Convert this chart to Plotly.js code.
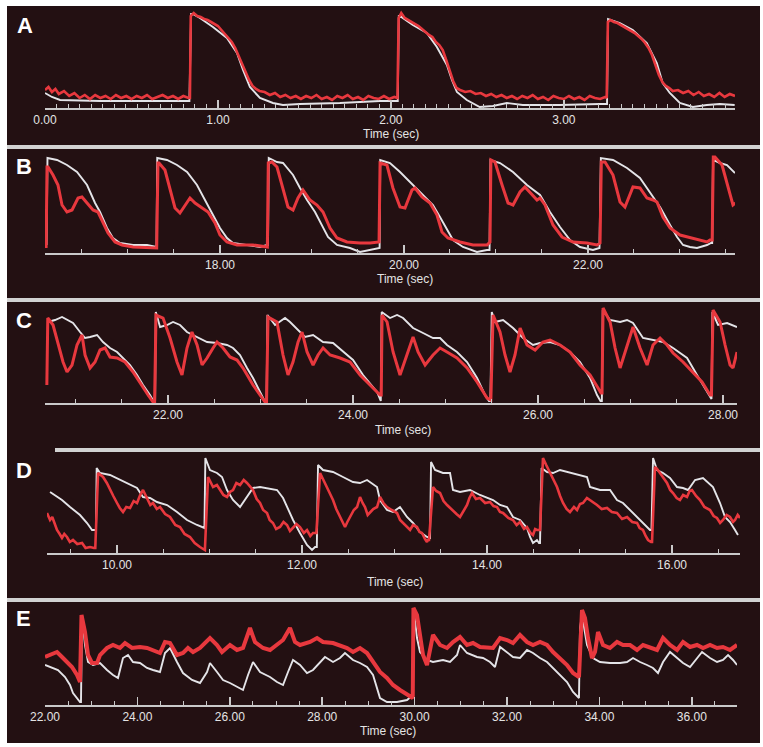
<!DOCTYPE html>
<html>
<head>
<meta charset="utf-8">
<script src="https://cdn.plot.ly/plotly-3.0.1.min.js"></script>
<style>html,body{margin:0;padding:0;background:#fff;}#chart{width:763px;height:747px;}</style>
</head>
<body>
<div id="chart"></div>
<script>
// ---------------- DATA (time in sec, signal in arbitrary units) ----------------
const panelLetters = ['A','B','C','D','E'];
const axisTitle = 'Time (sec)';

const aWhite = [[0,15],[0.04,11],[0.087,8],[0.32,7],[0.61,7],[0.827,7],[0.835,7],[0.845,94],[0.855,94],[0.896,90],[0.971,81],[1.052,70],[1.110,55],[1.145,38],[1.185,21],[1.243,10],[1.318,5],[1.376,3],[1.474,4],[1.705,5],[1.936,7],[2.029,7],[2.040,7],[2.046,92],[2.052,92],[2.127,83],[2.208,75],[2.266,61],[2.324,43],[2.353,28],[2.382,16],[2.439,8],[2.514,1],[2.590,2],[2.671,5],[2.763,3],[2.977,3],[3.208,4],[3.243,4],[3.250,4],[3.256,89],[3.324,85],[3.399,78],[3.480,65],[3.538,45],[3.572,25],[3.613,15],[3.671,5],[3.746,1],[3.827,3],[3.902,4],[3.988,3]];
const aRed = [[0,18],[0.02,21],[0.04,16],[0.06,19],[0.08,14],[0.11,17],[0.14,12],[0.17,15],[0.20,10],[0.23,13],[0.26,9],[0.29,13],[0.32,10],[0.35,12],[0.38,9],[0.41,13],[0.44,10],[0.47,12],[0.50,9],[0.53,12],[0.56,10],[0.59,13],[0.62,9],[0.65,11],[0.68,13],[0.71,10],[0.74,12],[0.77,9],[0.80,12],[0.83,10],[0.838,10],[0.843,92],[0.86,95],[0.88,92],[0.90,91],[0.92,89],[0.94,88],[0.96,86],[0.98,84],[1.00,82],[1.02,78],[1.04,74],[1.06,70],[1.08,66],[1.10,60],[1.12,52],[1.14,44],[1.16,36],[1.18,28],[1.20,22],[1.22,19],[1.24,17],[1.27,16],[1.30,13],[1.33,15],[1.36,11],[1.39,13],[1.42,10],[1.45,12],[1.48,9],[1.51,12],[1.54,10],[1.57,13],[1.60,9],[1.63,11],[1.66,8],[1.69,12],[1.72,10],[1.75,13],[1.78,9],[1.81,11],[1.84,8],[1.87,12],[1.90,10],[1.93,9],[1.96,12],[1.99,9],[2.02,11],[2.038,10],[2.045,90],[2.06,95],[2.08,90],[2.10,88],[2.12,86],[2.14,84],[2.16,82],[2.18,79],[2.20,76],[2.22,73],[2.24,71],[2.26,66],[2.28,63],[2.30,58],[2.32,48],[2.34,38],[2.36,27],[2.38,20],[2.40,18],[2.43,16],[2.46,17],[2.49,14],[2.52,15],[2.55,12],[2.58,14],[2.61,11],[2.64,13],[2.67,10],[2.70,12],[2.73,9],[2.76,12],[2.79,10],[2.82,13],[2.85,9],[2.88,11],[2.91,8],[2.94,12],[2.97,10],[3.00,9],[3.03,12],[3.06,9],[3.09,11],[3.12,8],[3.15,12],[3.18,10],[3.21,9],[3.24,11],[3.248,10],[3.255,86],[3.27,88],[3.29,86],[3.31,85],[3.33,83],[3.35,81],[3.37,79],[3.39,77],[3.41,75],[3.43,72],[3.45,69],[3.47,65],[3.49,60],[3.51,53],[3.53,43],[3.55,33],[3.57,26],[3.59,22],[3.61,20],[3.63,17],[3.66,18],[3.69,15],[3.72,17],[3.75,13],[3.78,16],[3.81,12],[3.84,14],[3.87,11],[3.90,15],[3.93,11],[3.96,14],[3.99,12]];

const bWhite = [[16.115,8],[16.125,95],[16.229,93],[16.337,88],[16.446,81],[16.555,68],[16.642,50],[16.696,41],[16.772,25],[16.837,15],[16.913,10],[17.055,8],[17.207,8],[17.294,6],[17.310,6],[17.318,95],[17.424,93],[17.533,88],[17.642,81],[17.750,68],[17.859,50],[17.924,38],[18.000,25],[18.076,15],[18.141,10],[18.293,8],[18.435,6],[18.511,8],[18.522,8],[18.530,95],[18.620,91],[18.685,90],[18.794,78],[18.870,65],[18.946,53],[19.033,41],[19.109,28],[19.174,16],[19.272,8],[19.413,5],[19.522,1],[19.631,3],[19.735,5],[19.742,93],[19.848,90],[19.957,81],[20.098,68],[20.207,58],[20.315,48],[20.391,36],[20.467,23],[20.533,13],[20.641,6],[20.793,1],[20.902,3],[20.930,3],[20.940,93],[21.044,90],[21.185,81],[21.337,68],[21.479,58],[21.587,41],[21.696,26],[21.805,13],[21.913,6],[22.054,3],[22.125,5],[22.140,95],[22.272,93],[22.424,85],[22.565,75],[22.674,61],[22.783,46],[22.892,28],[22.968,16],[23.033,8],[23.109,6],[23.185,5],[23.294,8],[23.337,10],[23.350,10],[23.359,93],[23.435,90],[23.511,88],[23.598,80]];
const bRed = [[16.110,5],[16.120,86],[16.131,86],[16.185,78],[16.239,68],[16.283,48],[16.337,41],[16.392,43],[16.457,55],[16.500,56],[16.555,50],[16.620,43],[16.674,41],[16.729,31],[16.783,20],[16.859,11],[16.935,8],[17.055,6],[17.207,5],[17.294,5],[17.312,5],[17.326,90],[17.337,90],[17.402,83],[17.457,65],[17.511,45],[17.565,40],[17.620,48],[17.674,55],[17.729,50],[17.805,45],[17.870,41],[17.946,30],[18.000,18],[18.076,11],[18.185,8],[18.359,8],[18.489,6],[18.515,6],[18.525,90],[18.565,91],[18.620,86],[18.674,68],[18.739,46],[18.794,43],[18.848,55],[18.902,63],[18.978,53],[19.054,48],[19.120,41],[19.196,25],[19.272,15],[19.380,11],[19.522,10],[19.631,10],[19.729,11],[19.740,90],[19.815,88],[19.880,65],[19.957,46],[20.011,45],[20.087,63],[20.120,65],[20.196,56],[20.283,50],[20.359,38],[20.413,21],[20.478,15],[20.609,11],[20.750,8],[20.902,8],[20.935,11],[20.945,93],[20.989,91],[21.066,68],[21.131,50],[21.185,48],[21.261,61],[21.315,66],[21.392,58],[21.446,53],[21.479,55],[21.533,48],[21.620,28],[21.718,16],[21.837,11],[21.989,10],[22.098,8],[22.131,10],[22.145,91],[22.185,91],[22.272,78],[22.348,51],[22.402,46],[22.489,66],[22.565,65],[22.641,55],[22.707,53],[22.750,51],[22.815,36],[22.892,25],[23.000,18],[23.141,15],[23.294,11],[23.326,13],[23.350,13],[23.362,96],[23.380,96],[23.457,88],[23.522,65],[23.576,48],[23.620,51]];

const cWhite = [[20.700,81],[20.778,83],[20.854,86],[20.908,83],[20.973,80],[21.049,71],[21.103,65],[21.157,66],[21.233,68],[21.297,61],[21.373,55],[21.449,51],[21.514,45],[21.589,38],[21.665,28],[21.730,18],[21.805,8],[21.849,1],[21.860,1],[21.868,91],[21.914,76],[21.989,78],[22.054,81],[22.130,78],[22.205,71],[22.314,66],[22.422,61],[22.530,60],[22.638,58],[22.703,55],[22.778,48],[22.854,35],[22.919,25],[22.995,11],[23.049,1],[23.065,1],[23.075,88],[23.157,78],[23.265,85],[23.319,81],[23.427,71],[23.481,66],[23.568,68],[23.676,61],[23.784,60],[23.892,51],[24.000,43],[24.108,28],[24.260,11],[24.300,2],[24.310,91],[24.400,85],[24.476,88],[24.541,85],[24.649,75],[24.757,70],[24.865,65],[24.941,65],[25.016,58],[25.124,51],[25.233,41],[25.341,25],[25.427,8],[25.470,2],[25.485,2],[25.500,91],[25.535,81],[25.622,83],[25.730,75],[25.838,65],[25.946,58],[26.022,60],[26.130,61],[26.238,58],[26.346,51],[26.454,41],[26.562,25],[26.638,8],[26.675,2],[26.690,2],[26.700,93],[26.779,83],[26.887,81],[26.962,83],[27.027,80],[27.135,65],[27.243,63],[27.351,61],[27.460,55],[27.611,45],[27.719,28],[27.806,15],[27.860,6],[27.875,4],[27.885,91],[27.946,78],[28.044,80],[28.151,76]];
const cRed = [[20.690,18],[20.700,85],[20.757,78],[20.811,58],[20.865,41],[20.908,31],[20.962,38],[21.016,58],[21.070,68],[21.103,48],[21.157,35],[21.211,41],[21.265,53],[21.319,55],[21.373,46],[21.449,45],[21.535,41],[21.622,31],[21.697,20],[21.784,8],[21.838,1],[21.855,1],[21.870,88],[21.946,85],[22.022,65],[22.097,41],[22.151,28],[22.205,55],[22.259,71],[22.314,58],[22.368,38],[22.422,45],[22.487,55],[22.530,61],[22.595,55],[22.670,46],[22.746,43],[22.811,35],[22.919,18],[23.016,6],[23.049,1],[23.065,1],[23.081,86],[23.178,81],[23.243,48],[23.297,28],[23.351,41],[23.406,61],[23.449,71],[23.503,51],[23.568,38],[23.622,48],[23.676,55],[23.752,48],[23.860,45],[23.968,41],[24.076,28],[24.184,18],[24.292,8],[24.305,8],[24.314,88],[24.368,81],[24.433,51],[24.508,28],[24.584,48],[24.649,66],[24.703,51],[24.779,38],[24.865,48],[24.941,55],[25.016,51],[25.124,45],[25.233,35],[25.341,21],[25.449,5],[25.478,3],[25.490,3],[25.514,88],[25.589,71],[25.643,48],[25.697,31],[25.751,48],[25.806,75],[25.881,58],[25.968,53],[26.054,61],[26.130,63],[26.238,58],[26.346,51],[26.454,38],[26.562,28],[26.649,15],[26.681,10],[26.692,10],[26.703,95],[26.779,81],[26.833,55],[26.887,35],[26.962,58],[27.027,76],[27.103,55],[27.179,38],[27.243,58],[27.319,65],[27.395,58],[27.460,50],[27.568,41],[27.676,31],[27.773,21],[27.860,8],[27.875,8],[27.892,93],[27.968,81],[28.022,58],[28.076,38],[28.108,35],[28.151,51]];

const dWhite = [[9.276,61],[9.330,58],[9.405,53],[9.492,46],[9.600,38],[9.676,30],[9.730,23],[9.762,23],[9.773,23],[9.780,85],[9.816,80],[9.924,78],[10.032,73],[10.141,68],[10.216,65],[10.281,56],[10.357,55],[10.432,51],[10.541,48],[10.649,41],[10.757,33],[10.865,28],[10.930,25],[10.945,25],[10.955,95],[11.005,83],[11.081,80],[11.135,76],[11.189,63],[11.254,53],[11.330,46],[11.405,56],[11.470,65],[11.546,66],[11.622,65],[11.730,63],[11.795,55],[11.838,46],[11.903,33],[11.978,20],[12.054,8],[12.108,3],[12.141,6],[12.160,6],[12.173,88],[12.227,83],[12.335,81],[12.443,76],[12.551,71],[12.627,70],[12.703,73],[12.811,66],[12.843,53],[12.919,43],[12.984,41],[13.059,46],[13.135,36],[13.200,30],[13.276,21],[13.351,16],[13.373,15],[13.384,15],[13.395,91],[13.438,83],[13.524,80],[13.600,80],[13.632,63],[13.708,61],[13.816,63],[13.924,58],[14.065,53],[14.141,48],[14.216,46],[14.281,36],[14.357,33],[14.432,25],[14.465,16],[14.497,10],[14.540,13],[14.562,10],[14.573,10],[14.590,85],[14.649,81],[14.714,80],[14.789,83],[14.865,81],[14.930,80],[15.005,78],[15.081,76],[15.113,66],[15.222,63],[15.330,63],[15.405,53],[15.470,50],[15.578,40],[15.686,30],[15.730,25],[15.762,23],[15.778,23],[15.795,95],[15.838,83],[15.903,80],[15.978,75],[16.054,66],[16.119,65],[16.173,63],[16.249,73],[16.335,75],[16.443,66],[16.519,50],[16.573,36],[16.627,31],[16.681,23],[16.713,18]];
const dRed = [[9.243,40],[9.276,33],[9.300,36],[9.351,23],[9.380,19],[9.405,15],[9.430,19],[9.459,16],[9.490,11],[9.524,13],[9.570,9],[9.622,10],[9.660,5],[9.708,6],[9.751,5],[9.765,5],[9.795,80],[9.849,76],[9.890,70],[9.924,63],[9.960,57],[10.000,50],[10.030,45],[10.065,41],[10.100,46],[10.141,45],[10.180,52],[10.216,50],[10.250,58],[10.281,63],[10.324,55],[10.360,48],[10.389,50],[10.430,44],[10.465,46],[10.520,39],[10.573,36],[10.630,28],[10.681,26],[10.730,19],[10.789,16],[10.840,10],[10.897,6],[10.941,3],[10.950,3],[10.984,76],[11.038,66],[11.080,68],[11.113,63],[11.150,58],[11.189,56],[11.220,61],[11.254,63],[11.290,70],[11.330,68],[11.370,73],[11.405,70],[11.440,66],[11.470,63],[11.510,54],[11.546,50],[11.580,43],[11.622,40],[11.650,33],[11.686,30],[11.720,24],[11.762,26],[11.800,31],[11.838,28],[11.870,22],[11.903,25],[11.940,29],[11.978,26],[12.020,20],[12.054,23],[12.090,17],[12.119,20],[12.155,20],[12.195,80],[12.249,70],[12.290,62],[12.335,53],[12.370,44],[12.411,36],[12.440,30],[12.465,26],[12.490,31],[12.519,36],[12.560,43],[12.595,46],[12.627,56],[12.655,50],[12.681,46],[12.710,38],[12.735,41],[12.770,44],[12.811,46],[12.843,56],[12.880,50],[12.919,46],[12.970,43],[13.027,40],[13.060,33],[13.092,30],[13.130,26],[13.168,23],[13.200,28],[13.243,26],[13.270,21],[13.297,20],[13.330,14],[13.351,11],[13.362,13],[13.373,13],[13.416,66],[13.450,62],[13.492,60],[13.530,52],[13.568,48],[13.600,45],[13.632,43],[13.670,39],[13.708,36],[13.750,42],[13.784,48],[13.810,55],[13.838,60],[13.880,54],[13.924,55],[13.980,50],[14.032,51],[14.070,47],[14.108,46],[14.140,41],[14.173,40],[14.230,35],[14.281,33],[14.320,28],[14.357,31],[14.400,24],[14.432,26],[14.470,20],[14.497,18],[14.520,24],[14.540,23],[14.573,23],[14.605,95],[14.640,88],[14.681,80],[14.720,72],[14.757,66],[14.790,57],[14.822,50],[14.860,44],[14.897,41],[14.940,46],[14.973,43],[15.005,49],[15.038,50],[15.080,55],[15.113,53],[15.150,50],[15.189,48],[15.240,44],[15.297,45],[15.350,41],[15.405,40],[15.460,34],[15.514,36],[15.570,31],[15.622,30],[15.650,25],[15.686,23],[15.715,17],[15.741,13],[15.773,11],[15.784,11],[15.816,86],[15.840,84],[15.870,80],[15.910,74],[15.946,70],[15.980,63],[16.011,60],[16.050,55],[16.086,53],[16.120,58],[16.162,56],[16.190,62],[16.216,63],[16.260,57],[16.303,53],[16.350,46],[16.411,43],[16.450,37],[16.486,35],[16.520,30],[16.551,33],[16.590,38],[16.627,36],[16.660,31],[16.681,33],[16.710,38],[16.735,35]];

const eWhite = [[22.000,40],[22.108,38],[22.281,35],[22.433,28],[22.541,20],[22.606,12],[22.714,5],[22.758,3],[22.779,3],[22.801,90],[22.866,60],[22.931,43],[23.039,40],[23.191,42],[23.342,35],[23.472,30],[23.580,27],[23.688,47],[23.797,50],[23.905,43],[24.056,42],[24.208,37],[24.338,35],[24.489,33],[24.597,52],[24.706,57],[24.857,43],[24.987,32],[25.182,25],[25.355,22],[25.507,33],[25.571,42],[25.723,33],[25.853,25],[26.004,22],[26.156,18],[26.286,15],[26.394,30],[26.502,43],[26.654,33],[26.870,28],[27.022,23],[27.152,20],[27.260,33],[27.368,45],[27.520,40],[27.671,32],[27.801,35],[27.952,42],[28.060,48],[28.234,43],[28.385,47],[28.493,52],[28.667,45],[28.818,42],[28.970,38],[29.100,30],[29.208,13],[29.251,7],[29.402,3],[29.619,3],[29.836,5],[29.944,10],[29.960,10],[29.975,97],[30.052,67],[30.117,53],[30.268,45],[30.398,43],[30.615,45],[30.766,43],[30.918,50],[30.983,60],[31.134,52],[31.351,48],[31.481,47],[31.632,43],[31.740,38],[31.849,58],[32.000,53],[32.130,48],[32.281,47],[32.433,55],[32.563,52],[32.714,47],[32.866,43],[32.996,37],[33.147,30],[33.299,23],[33.429,13],[33.537,7],[33.558,7],[33.580,77],[33.623,90],[33.732,60],[33.861,47],[34.013,43],[34.229,42],[34.446,42],[34.597,43],[34.727,47],[34.879,43],[35.030,40],[35.160,37],[35.268,32],[35.377,43],[35.528,53],[35.680,47],[35.810,42],[35.961,38],[36.113,47],[36.221,53],[36.394,47],[36.546,43],[36.675,45],[36.784,50],[36.892,45],[36.978,40]];
const eRed = [[22.000,48],[22.108,50],[22.260,53],[22.368,48],[22.476,43],[22.584,38],[22.693,30],[22.736,23],[22.758,23],[22.790,90],[22.866,73],[22.931,50],[23.017,42],[23.126,42],[23.191,50],[23.342,57],[23.472,60],[23.623,57],[23.732,62],[23.883,57],[24.056,58],[24.208,57],[24.338,55],[24.489,52],[24.597,63],[24.706,62],[24.857,50],[24.987,52],[25.095,57],[25.204,53],[25.355,57],[25.463,62],[25.571,67],[25.723,60],[25.831,53],[26.004,60],[26.156,55],[26.286,57],[26.437,77],[26.545,63],[26.719,57],[26.870,55],[27.022,60],[27.152,65],[27.303,77],[27.411,63],[27.520,60],[27.736,63],[27.888,67],[28.017,63],[28.234,62],[28.385,60],[28.537,57],[28.667,53],[28.818,57],[28.970,52],[29.100,43],[29.251,33],[29.402,27],[29.532,20],[29.684,15],[29.836,10],[29.944,7],[29.960,7],[29.975,97],[30.052,90],[30.117,70],[30.182,50],[30.268,40],[30.333,53],[30.398,70],[30.550,60],[30.701,57],[30.831,63],[30.983,68],[31.134,60],[31.264,62],[31.416,58],[31.567,57],[31.697,57],[31.849,67],[32.000,65],[32.130,62],[32.281,70],[32.433,63],[32.563,60],[32.714,63],[32.866,60],[32.996,53],[33.147,47],[33.299,40],[33.429,32],[33.537,28],[33.558,28],[33.623,95],[33.688,87],[33.753,67],[33.840,47],[33.905,53],[33.970,73],[34.078,60],[34.229,57],[34.381,63],[34.511,60],[34.662,60],[34.814,55],[34.944,60],[35.095,57],[35.247,55],[35.377,67],[35.528,60],[35.680,55],[35.810,63],[35.961,58],[36.113,60],[36.243,57],[36.394,60],[36.546,57],[36.675,58],[36.827,55],[36.978,60]];

const xRanges = [[0,3.99],[16.098,23.598],[20.670,28.151],[9.243,16.735],[22.0,36.978]];
const majorStep = [1,2,2,2,2];
const minorStep = [1/15,0.5,0.5,0.5,0.5];

// ---------------- LAYOUT (pixel geometry) ----------------
const W = 763, H = 747;
const geom = [
  {xl:45, xr:735, axisY:108, title:[391,134], letter:[25,26]},
  {xl:45, xr:735, axisY:253, title:[405,279], letter:[24,166]},
  {xl:45, xr:737, axisY:403, title:[403,430], letter:[24,320]},
  {xl:47, xr:740, axisY:553, title:[395,582], letter:[24,471]},
  {xl:45, xr:737, axisY:705, title:[388,731], letter:[24,618]}
];
const series = [[aWhite,aRed],[bWhite,bRed],[cWhite,cRed],[dWhite,dRed],[eWhite,eRed]];
const redWidth = [2.6,3,3,2.6,4];

const BG = '#231012', AXIS = '#c9c9c9', TXT = '#e4e4e4', WHITE = '#e4e4e8', RED = '#e8383e';
const fx = x => x / W, fy = y => 1 - y / H;

const traces = [];
const layout = {
  width: W, height: H, margin: {l:0, r:0, t:0, b:0},
  paper_bgcolor: '#ffffff', plot_bgcolor: 'rgba(0,0,0,0)', showlegend: false,
  font: {family: 'Liberation Sans, Arial, sans-serif', size: 12, color: TXT},
  shapes: [], annotations: []
};

layout.shapes.push({type:'rect', xref:'paper', yref:'paper', x0:fx(7), x1:fx(760), y0:fy(743), y1:fy(6), fillcolor:BG, line:{width:0}, layer:'below'});
[[7,147],[7,300],[55,450],[7,600]].forEach(([x0,y]) => {
  layout.shapes.push({type:'line', xref:'paper', yref:'paper', x0:fx(x0), x1:fx(760), y0:fy(y), y1:fy(y), line:{color:'#d2d2d2', width:4}, layer:'below'});
});

geom.forEach((g, i) => {
  const s = i === 0 ? '' : String(i + 1);
  layout['xaxis' + s] = {
    domain: [fx(g.xl), fx(g.xr)], range: xRanges[i], anchor: 'y' + s,
    showline: true, linecolor: AXIS, linewidth: 2, showgrid: false, zeroline: false,
    ticks: 'inside', ticklen: 8, tickwidth: 1.5, tickcolor: AXIS,
    tick0: 0, dtick: majorStep[i], tickformat: '.2f',
    tickfont: {size: 12, color: TXT, family: 'Liberation Sans, Arial, sans-serif'},
    minor: {ticks: 'inside', tick0: 0, dtick: minorStep[i], ticklen: 4, tickwidth: 1, tickcolor: AXIS, showgrid: false},
    fixedrange: true
  };
  layout['yaxis' + s] = {domain: [fy(g.axisY), fy(g.axisY - 100)], range: [0, 100], visible: false, anchor: 'x' + s, fixedrange: true};

  const [wh, rd] = series[i];
  traces.push({x: wh.map(d => d[0]), y: wh.map(d => d[1]), xaxis: 'x' + s, yaxis: 'y' + s, type: 'scatter', mode: 'lines', line: {color: WHITE, width: 1.9}, hoverinfo: 'skip'});
  traces.push({x: rd.map(d => d[0]), y: rd.map(d => d[1]), xaxis: 'x' + s, yaxis: 'y' + s, type: 'scatter', mode: 'lines', line: {color: RED, width: redWidth[i]}, hoverinfo: 'skip'});

  layout.annotations.push({text: axisTitle, xref: 'paper', yref: 'paper', x: fx(g.title[0]), y: fy(g.title[1]), xanchor: 'center', yanchor: 'middle', showarrow: false, font: {size: 12, color: TXT}});
  layout.annotations.push({text: '<b>' + panelLetters[i] + '</b>', xref: 'paper', yref: 'paper', x: fx(g.letter[0]), y: fy(g.letter[1]), xanchor: 'center', yanchor: 'middle', showarrow: false, font: {size: 22, color: '#ffffff', family: 'Liberation Sans, Arial, sans-serif'}});
});

Plotly.newPlot('chart', traces, layout, {staticPlot: true, displayModeBar: false});
</script>
</body>
</html>
